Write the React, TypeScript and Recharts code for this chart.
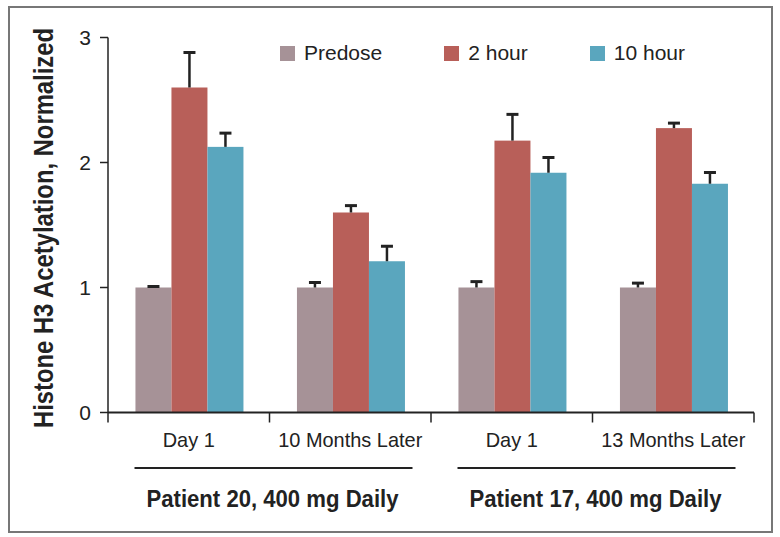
import { BarChart, Bar, XAxis, YAxis } from "recharts"

const timepoints = ["Day 1", "10 Months Later", "Day 1", "13 Months Later"]
const patients = ["Patient 20, 400 mg Daily", "Patient 17, 400 mg Daily"]

const predose = [1.0, 1.0, 1.0, 1.0]
const predoseErr = [0.008, 0.04, 0.047, 0.035]
const twoHour = [2.6, 1.6, 2.175, 2.275]
const twoHourErr = [0.28, 0.055, 0.21, 0.04]
const tenHour = [2.125, 1.21, 1.918, 1.83]
const tenHourErr = [0.11, 0.12, 0.122, 0.09]

const yTicks = [0, 1, 2, 3]

const series = [
  { key: "predose", err: "predoseErr", name: "Predose", color: "#a69297" },
  { key: "twoHour", err: "twoHourErr", name: "2 hour", color: "#b85f59" },
  { key: "tenHour", err: "tenHourErr", name: "10 hour", color: "#5aa6be" },
]

const data = timepoints.map((t, i) => ({
  t,
  predose: predose[i],
  predoseErr: predoseErr[i],
  twoHour: twoHour[i],
  twoHourErr: twoHourErr[i],
  tenHour: tenHour[i],
  tenHourErr: tenHourErr[i],
}))

const font = "'Liberation Sans', Arial, sans-serif"

// bar + one-sided (upper) error bar, scaled off the bar's own pixel height
const errShape = (valueKey: string, errKey: string) => (props: any) => {
  const { x, y, width, height, fill, payload } = props
  const v = payload[valueKey]
  const e = payload[errKey]
  const ppu = v ? height / v : 0
  const cx = x + width / 2
  const top = y - e * ppu
  return (
    <g>
      <rect x={x} y={y} width={width} height={height} fill={fill} />
      <line x1={cx} y1={y} x2={cx} y2={top} stroke="#222" strokeWidth={2.5} />
      <line x1={cx - 6} y1={top} x2={cx + 6} y2={top} stroke="#222" strokeWidth={3} />
    </g>
  )
}

const XTick = (props: any) => {
  const { x, y, payload, index } = props
  const off = payload.offset || 0
  const axisY = y - 20
  const last = index === timepoints.length - 1
  const mid = x + off
  return (
    <g>
      <line x1={x - off} y1={axisY} x2={x - off} y2={axisY + 10} stroke="#222" strokeWidth={1.5} />
      {last && <line x1={x + off} y1={axisY} x2={x + off} y2={axisY + 10} stroke="#222" strokeWidth={1.5} />}
      <text
        x={x}
        y={y}
        dy="0.71em"
        textAnchor="middle"
        fontFamily={font}
        fontSize={21}
        fill="#222"
        transform={`translate(${x},0) scale(0.95,1) translate(${-x},0)`}
      >
        {payload.value}
      </text>
      {index % 2 === 0 && (
        <g>
          <line x1={mid + 4 - 139} y1={y + 35.5} x2={mid + 4 + 139} y2={y + 35.5} stroke="#222" strokeWidth={2} />
          <text
            x={mid + 3}
            y={y + 74.5}
            textAnchor="middle"
            fontFamily={font}
            fontWeight="bold"
            fontSize={24}
            fill="#222"
            textLength={252}
            lengthAdjust="spacingAndGlyphs"
          >
            {patients[index / 2]}
          </text>
        </g>
      )}
    </g>
  )
}

const YLabel = (props: any) => {
  const vb = props.viewBox || { x: 48, y: 37.5, width: 60, height: 375 }
  const lx = vb.x + 5
  const ly = vb.y + vb.height / 2 + 3
  return (
    <text
      x={lx}
      y={ly}
      transform={`rotate(-90, ${lx}, ${ly})`}
      textAnchor="middle"
      fontFamily={font}
      fontWeight="bold"
      fontSize={27}
      fill="#222"
      textLength={400}
      lengthAdjust="spacingAndGlyphs"
    >
      Histone H3 Acetylation, Normalized
    </text>
  )
}

export default function App() {
  return (
    <div style={{ position: "absolute", left: 0, top: 0, width: 780, height: 537, background: "#fff" }}>
      <div
        style={{
          position: "absolute",
          left: 8,
          top: 6,
          width: 761,
          height: 523,
          border: "2px solid #777",
        }}
      />
      <div style={{ position: "absolute", left: 0, top: 0 }}>
        <BarChart
          width={780}
          height={537}
          data={data}
          margin={{ top: 37.5, right: 26, bottom: 24.5, left: 48 }}
          barCategoryGap="17%"
          barGap={0}
        >
          <XAxis
            dataKey="t"
            height={100}
            interval={0}
            tickLine={false}
            tickSize={10}
            tickMargin={10}
            axisLine={{ stroke: "#222", strokeWidth: 2 }}
            tick={<XTick />}
          />
          <YAxis
            width={60}
            domain={[0, 3]}
            ticks={yTicks}
            tickSize={8}
            tickMargin={9}
            axisLine={{ stroke: "#222", strokeWidth: 1.5 }}
            tickLine={{ stroke: "#222", strokeWidth: 1.5 }}
            tick={{ fontFamily: font, fontSize: 21, fill: "#222" }}
            label={<YLabel />}
          />
          {series.map((s) => (
            <Bar
              key={s.key}
              dataKey={s.key}
              name={s.name}
              fill={s.color}
              isAnimationActive={false}
              shape={errShape(s.key, s.err)}
            />
          ))}
        </BarChart>
      </div>
      <div
        style={{
          position: "absolute",
          left: 280,
          top: 41,
          display: "flex",
          fontFamily: font,
          fontSize: 21,
          color: "#222",
        }}
      >
        {series.map((s) => (
          <div key={s.key} style={{ display: "flex", alignItems: "center", marginRight: 62 }}>
            <span style={{ display: "inline-block", width: 15, height: 15, background: s.color, marginRight: 9 }} />
            <span>{s.name}</span>
          </div>
        ))}
      </div>
    </div>
  )
}
